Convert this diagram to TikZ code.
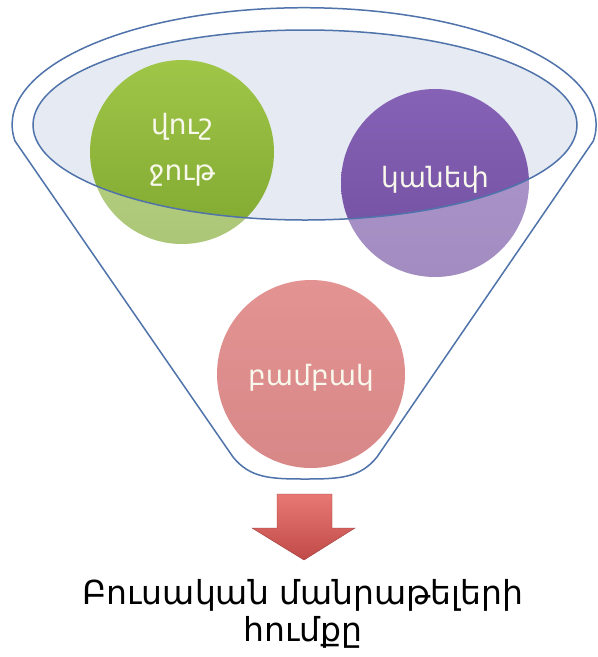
\documentclass[tikz,border=0pt]{standalone}
\usepackage{fontspec}
\setmainfont{DejaVu Sans}
\definecolor{lineblue}{RGB}{79,115,170}
\definecolor{ellfill}{RGB}{229,234,243}
\definecolor{greenT}{RGB}{160,198,72}
\definecolor{greenB}{RGB}{128,168,48}
\definecolor{purpT}{RGB}{134,98,182}
\definecolor{purpB}{RGB}{112,78,158}
\definecolor{pinkT}{RGB}{214,90,90}
\definecolor{pinkB}{RGB}{196,72,72}
\definecolor{arrT}{RGB}{232,120,116}
\definecolor{arrB}{RGB}{192,74,72}
\definecolor{txtw}{RGB}{248,248,236}
\tikzset{
  ball/.style={circle, draw=none, minimum size=#1, inner sep=0pt},
  outline/.style={draw=lineblue, line width=1.5pt},
  ctext/.style={text=txtw, font=\fontsize{28}{46}\selectfont, align=center},
}
\begin{document}
\begin{tikzpicture}[x=1pt,y=-1pt]
\useasboundingbox (0,0) rectangle (598,657);
\fill[white] (0,0) rectangle (598,657);
% funnel body
\def\funnelpath{(15,141) arc[start angle=172, end angle=368, x radius=292, y radius=117] -- (377,457) .. controls (360,478) and (340,479) .. (305,479) .. controls (270,479) and (250,478) .. (233,457) -- cycle}
\def\ellpath{(305,125) ellipse [x radius=272, y radius=95]}
\fill[white] \funnelpath;
\fill[ellfill] \ellpath;
% balls
\node[ball=184pt, top color=greenT, bottom color=greenB] (green) at (182,152) {};
\node[ball=188pt, top color=purpT, bottom color=purpB] (purple) at (435,183) {};
\node[ball=188pt, top color=pinkT, bottom color=pinkB] (pink) at (311,374) {};
% wash of the funnel body over the balls
\fill[white, opacity=0.35, even odd rule] \funnelpath \ellpath;
% outlines
\draw[outline, line join=round] \funnelpath;
\draw[outline] \ellpath;
% texts
\node[ctext] (t1) at (182,150) {վուշ\\ջութ};
\node[ctext] (t2) at (435,180) {կանեփ};
\node[ctext] (t3) at (311,378) {բամբակ};
% arrow
\shade[top color=arrT, bottom color=arrB, draw=arrB!80!black, line width=0.4pt]
  (277,494) -- (332,494) -- (332,528) -- (355,528) -- (304,560) -- (252,528) -- (277,528) -- cycle;
\node[font=\fontsize{33}{37}\selectfont, align=center, text=black] (cap) at (303,614) {Բուսական մանրաթելերի\\հումքը};
\end{tikzpicture}
\end{document}
